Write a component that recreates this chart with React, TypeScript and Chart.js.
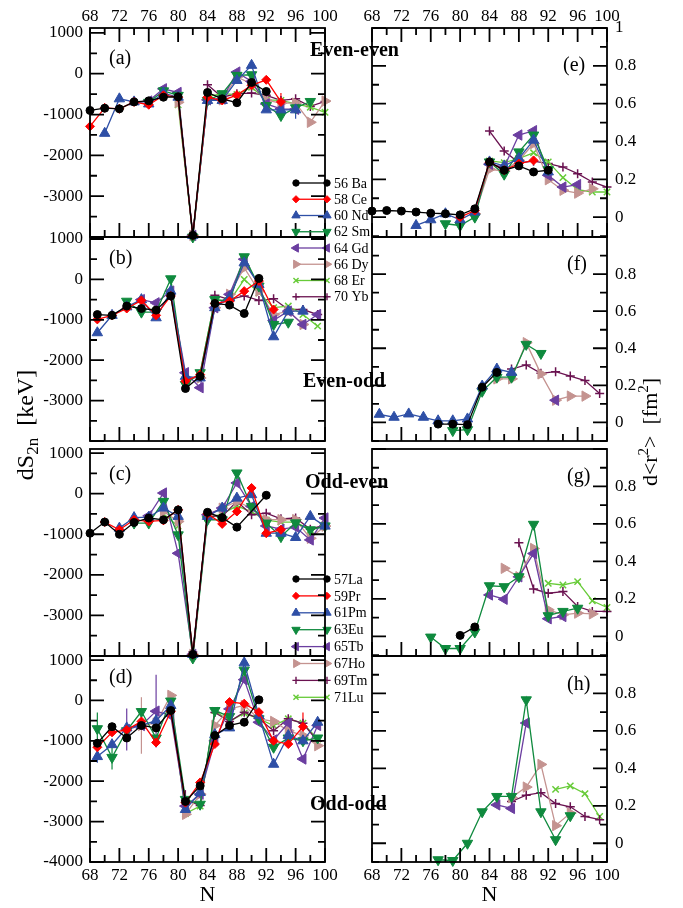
import React, { useEffect, useRef } from "react";
import { Chart, registerables } from "chart.js";
import { drawPoint } from "chart.js/helpers";

Chart.register(...registerables);

const W = 683;
const H = 908;
const SERIF = '"Liberation Serif", "Times New Roman", Times, serif';

// ---------- axes / labels ----------
const N_EVEN = [68, 70, 72, 74, 76, 78, 80, 82, 84, 86, 88, 90, 92, 94, 96, 98, 100];
const N_ODD = [69, 71, 73, 75, 77, 79, 81, 83, 85, 87, 89, 91, 93, 95, 97, 99];
const N_TICKS = [68, 72, 76, 80, 84, 88, 92, 96, 100];
const DS_TICKS_TOP = [1000, 0, -1000, -2000, -3000];
const DS_TICKS_BOTTOM = [1000, 0, -1000, -2000, -3000, -4000];
const DR_TICKS_TOP = [1, 0.8, 0.6, 0.4, 0.2, 0];
const DR_TICKS = [0.8, 0.6, 0.4, 0.2, 0];
const EVEN_Z_LABELS = ["56 Ba", "58 Ce", "60 Nd", "62 Sm", "64 Gd", "66 Dy", "68 Er", "70 Yb"];
const ODD_Z_LABELS = ["57La", "59Pr", "61Pm", "63Eu", "65Tb", "67Ho", "69Tm", "71Lu"];
const GROUP_TITLES = ["Even-even", "Even-odd", "Odd-even", "Odd-odd"];

// ---------- (a) even-even dS2n (N even) ----------
const A_BA = [-900, -845, -860, -690, -665, -575, -565, -3960, -460, -615, -710, -215, -435, null, null, null, null];
const A_CE = [-1290, -836, -860, -690, -760, -530, -575, -3960, -575, -655, -525, -285, -150, -690, null, null, null];
const A_ND = [null, -1460, -615, -690, -740, -475, -575, -3960, -655, -655, -165, 205, -885, -885, -885, null, null];
const A_SM = [null, null, null, null, -700, -420, -530, -4000, -655, -490, -40, -25, -780, -1025, -835, -680, null];
const A_GD = [null, null, null, null, -670, -370, -460, -3960, -640, -620, 40, -190, -740, -860, -870, null, null];
const A_DY = [null, null, null, null, null, null, -700, -3960, -600, -640, -80, -245, -650, -720, -720, -1190, -670];
const A_ER = [null, null, null, null, null, null, -760, -3960, -560, -490, -510, -330, -640, -655, -740, -820, -945];
const A_YB = [null, null, null, null, null, null, null, null, -270, -575, -490, -475, -530, -655, -615, -800, -680];
const A_CE_ERR = [null, null, null, null, null, null, null, null, null, null, null, null, null, 220, null, null, null];
const A_ND_ERR = [null, null, null, null, null, null, null, null, null, null, null, null, null, null, 220, null, null];

// ---------- (b) even-odd dS2n (N odd) ----------
const B_BA = [-870, -890, -660, -720, -760, -410, -2700, -2400, -595, -636, -843, 25, null, null, null, null];
const B_CE = [-990, -890, -720, -520, -890, -410, -2520, -2355, -595, -540, -290, -40, -745, null, null, null];
const B_ND = [-1320, -890, -680, -500, -950, -290, -2400, -2440, -700, -455, 410, -125, -1420, -785, -785, null];
const B_SM = [null, null, -540, -810, -810, 15, -2600, -2310, -500, -540, 560, -165, -1115, -1060, null, null];
const B_GD = [null, null, null, -500, -580, -290, -2310, -2680, -700, -370, 500, -170, -1015, -785, -1115, -870];
const B_DY = [null, null, null, null, null, null, -2440, -2440, -700, -370, 290, -290, -870, -785, -1115, null];
const B_ER = [null, null, null, null, null, null, null, -2330, -500, -540, 0, -330, -700, -660, -870, -1157];
const B_YB = [null, null, null, null, null, null, null, null, -390, -500, -410, -520, -480, -745, -745, -870];

// ---------- (c) odd-even dS2n (N even) ----------
const C_LA = [-975, -700, -1000, -710, -600, -645, -400, -3960, -460, -590, -825, null, -40, null, null, null, null];
const C_PR = [null, -700, -890, -645, -685, -660, -400, -3960, -495, -745, -440, 140, -975, -890, null, null, null];
const C_PM = [null, null, -850, -590, -580, -355, -560, -3960, -560, -355, -110, -25, -975, -975, -1080, -560, -800];
const C_EU = [null, null, null, -725, -725, -190, -1015, -4050, -640, -645, 510, -315, -725, -1060, -720, -890, -795];
const C_TB = [null, null, null, null, -545, 15, -1470, -3960, -520, -355, 265, -315, -795, -875, -825, -1140, -600];
const C_HO = [null, null, null, null, null, -440, -685, -3960, -520, -360, -190, -360, -640, -640, -640, -1100, -800];
const C_TM = [null, null, null, null, null, null, null, -3900, -545, -560, -190, -520, -480, -620, -600, -875, -770];
const C_LU = [null, null, null, null, null, -500, -800, -3960, -600, -500, -300, -450, -650, -700, -700, -900, -800];

// ---------- (d) odd-odd dS2n (N odd) ----------
const D_LA = [-1060, -650, -930, -620, -680, -250, -2500, -2115, -870, -620, -540, 15, null, null, null, null];
const D_PR = [-1160, -790, -730, -520, -1040, -275, -2530, -2030, -1080, -40, -80, -290, -1000, -1080, -650, null];
const D_PM = [-1390, -1095, -680, -620, -500, -125, -2700, -2280, -845, -680, 930, -375, -1580, -870, -1000, -540];
const D_EU = [-700, -1410, -750, -275, -930, -15, -2450, -2570, -250, -400, 750, -455, -1160, -930, -1000, -930];
const D_TB = [null, null, -720, -620, -265, -375, -2615, -2320, -1000, -210, 515, -540, -980, -560, -1450, -620];
const D_HO = [null, null, null, -620, -560, 125, -2820, -2320, -620, -210, -125, -460, -520, -750, -870, -1120];
const D_TM = [null, null, null, null, null, null, -2470, -2600, -300, -520, -290, -455, -750, -455, -565, -1010];
const D_LU = [null, null, null, null, null, -30, -2800, -2615, -250, -520, -315, -455, -620, -455, -565, -955];
const D_EU_ERR = [400, 300, null, null, null, null, null, null, null, null, null, null, null, null, null, null];
const D_PM_ERR = [150, null, null, null, null, null, null, null, null, null, null, null, null, null, null, null];
const D_TB_ERR = [null, null, 520, null, 900, null, null, null, null, null, null, null, null, null, null, null];
const D_HO_ERR = [null, null, null, 700, null, null, null, null, null, null, null, null, null, null, null, null];
const D_TM_ERR = [null, null, null, null, null, null, 250, null, null, null, null, null, null, null, null, null];
const D_PR_ERR = [null, null, null, null, null, null, null, null, null, null, null, null, null, null, 350, null];

// ---------- (e) even-even d<r2> (N even) ----------
const E_BA = [0.032, 0.035, 0.032, 0.027, 0.021, 0.018, 0.012, 0.044, 0.292, 0.248, 0.271, 0.239, 0.248, null, null, null, null];
const E_CE = [null, null, null, null, null, null, 0.0, 0.035, 0.29, 0.248, 0.283, 0.3, null, null, null, null, null];
const E_ND = [null, null, null, -0.044, -0.014, 0.018, -0.014, 0.027, 0.292, 0.271, 0.31, 0.407, 0.239, null, null, null, null];
const E_SM = [null, null, null, null, null, -0.035, -0.044, 0.0, 0.292, 0.227, 0.345, 0.434, 0.251, null, null, null, null];
const E_GD = [null, null, null, null, null, null, null, null, 0.28, 0.265, 0.434, 0.457, 0.221, 0.159, 0.172, null, null];
const E_DY = [null, null, null, null, null, null, null, 0.018, 0.253, 0.244, 0.3, 0.389, 0.198, 0.142, 0.127, 0.15, null];
const E_ER = [null, null, null, null, null, null, null, null, 0.297, 0.288, 0.31, 0.34, 0.292, 0.209, 0.145, 0.133, 0.133];
const E_YB = [null, null, null, null, null, null, null, null, 0.455, 0.35, 0.287, 0.296, 0.283, 0.265, 0.23, 0.186, 0.159];

// ---------- (f) even-odd d<r2> (N odd) ----------
const F_BA = [null, null, null, null, -0.009, -0.009, -0.012, 0.19, 0.27, null, null, null, null, null, null, null];
const F_ND = [0.044, 0.028, 0.046, 0.028, 0.009, 0.009, 0.019, 0.196, 0.288, 0.27, null, null, null, null, null, null];
const F_SM = [null, null, null, null, null, -0.044, -0.039, 0.168, 0.244, 0.244, 0.421, 0.372, null, null, null, null];
const F_GD = [null, null, null, null, null, null, null, null, null, null, null, null, 0.12, null, null, null];
const F_DY = [null, null, null, null, null, null, null, null, 0.235, 0.235, 0.43, 0.262, 0.12, 0.142, 0.142, null];
const F_YB = [null, null, null, null, null, null, null, null, null, 0.288, 0.31, 0.265, 0.274, 0.25, 0.226, 0.156];

// ---------- (g) odd-even d<r2> (N even) ----------
const G_LA = [null, null, null, null, null, null, 0.005, 0.05, null, null, null, null, null, null, null, null, null];
const G_EU = [null, null, null, null, -0.004, -0.065, -0.065, 0.023, 0.27, 0.265, 0.318, 0.598, 0.11, 0.133, 0.15, null, null];
const G_TB = [null, null, null, null, null, null, null, null, 0.221, 0.198, 0.318, 0.442, 0.094, 0.106, null, null, null];
const G_HO = [null, null, null, null, null, null, null, null, null, 0.363, 0.318, 0.469, 0.142, 0.115, 0.124, 0.12, null];
const G_TM = [null, null, null, null, null, null, null, null, null, null, 0.499, 0.253, 0.23, 0.239, 0.159, 0.133, 0.133];
const G_LU = [null, null, null, null, null, null, null, null, null, null, null, null, 0.283, 0.274, 0.292, 0.19, 0.154];

// ---------- (h) odd-odd d<r2> (N odd) ----------
const H_EU = [null, null, null, null, -0.088, -0.092, 0.0, 0.168, 0.25, 0.25, 0.766, 0.168, 0.019, 0.147, null, null];
const H_TB = [null, null, null, null, null, null, null, null, 0.205, 0.186, 0.642, null, null, null, null, null];
const H_HO = [null, null, null, null, null, null, null, null, null, 0.244, 0.3, 0.421, 0.094, 0.161, null, null];
const H_TM = [null, null, null, null, null, null, null, null, null, 0.223, 0.257, 0.27, 0.212, 0.195, 0.143, 0.126];
const H_LU = [null, null, null, null, null, null, null, null, null, null, null, null, 0.288, 0.306, 0.265, 0.143];

// ---------- styles ----------
type St = { color: string; pointStyle: string; radius: number; rotation: number };
const STYLE: Record<string, St> = {
  k: { color: "#000000", pointStyle: "circle", radius: 4, rotation: 0 },
  r: { color: "#ff0000", pointStyle: "rectRot", radius: 4.5, rotation: 0 },
  b: { color: "#2e4fa6", pointStyle: "triangle", radius: 6, rotation: 0 },
  g: { color: "#0f8a3e", pointStyle: "triangle", radius: 6, rotation: 180 },
  v: { color: "#6b3ea0", pointStyle: "triangle", radius: 6, rotation: 270 },
  p: { color: "#c49390", pointStyle: "triangle", radius: 6, rotation: 90 },
  x: { color: "#67cb38", pointStyle: "crossRot", radius: 4.5, rotation: 0 },
  m: { color: "#6a1250", pointStyle: "cross", radius: 4.5, rotation: 0 },
};
const EVEN_KEYS = ["k", "r", "b", "g", "v", "p", "x", "m"];
const ODD_KEYS = ["k", "r", "b", "g", "v", "p", "m", "x"];

type Series = { vals: (number | null)[]; st: string; errs?: (number | null)[] };
type PanelCfg = {
  id: string;
  box: { l: number; t: number; r: number; b: number };
  n: number[];
  yMin: number;
  yMax: number;
  kind: "ds" | "dr";
  topAxis: boolean;
  bottomLabels: boolean;
  yLabels: number[];
  tag: string;
  tagPos: [number, number];
  series: Series[];
  overlay?: boolean;
};

const LEFT = { l: 90, r: 325 };
const RIGHT = { l: 372, r: 607 };
const ROWS = [
  [28, 237],
  [237, 441],
  [449, 656],
  [656, 862],
];

const PANELS: PanelCfg[] = [
  {
    id: "a", box: { l: LEFT.l, r: LEFT.r, t: ROWS[0][0], b: ROWS[0][1] }, n: N_EVEN, yMin: -4000, yMax: 1120, kind: "ds",
    topAxis: true, bottomLabels: false, yLabels: DS_TICKS_TOP, tag: "(a)", tagPos: [109, 59], overlay: true,
    series: [
      { vals: A_BA, st: "k" }, { vals: A_CE, st: "r", errs: A_CE_ERR }, { vals: A_ND, st: "b", errs: A_ND_ERR }, { vals: A_SM, st: "g" },
      { vals: A_GD, st: "v" }, { vals: A_DY, st: "p" }, { vals: A_ER, st: "x" }, { vals: A_YB, st: "m" },
    ],
  },
  {
    id: "b", box: { l: LEFT.l, r: LEFT.r, t: ROWS[1][0], b: ROWS[1][1] }, n: N_ODD, yMin: -4000, yMax: 1050, kind: "ds",
    topAxis: false, bottomLabels: false, yLabels: DS_TICKS_TOP, tag: "(b)", tagPos: [109, 259],
    series: [
      { vals: B_BA, st: "k" }, { vals: B_CE, st: "r" }, { vals: B_ND, st: "b" }, { vals: B_SM, st: "g" },
      { vals: B_GD, st: "v" }, { vals: B_DY, st: "p" }, { vals: B_ER, st: "x" }, { vals: B_YB, st: "m" },
    ],
  },
  {
    id: "c", box: { l: LEFT.l, r: LEFT.r, t: ROWS[2][0], b: ROWS[2][1] }, n: N_EVEN, yMin: -4000, yMax: 1100, kind: "ds",
    topAxis: false, bottomLabels: false, yLabels: DS_TICKS_TOP, tag: "(c)", tagPos: [109, 475],
    series: [
      { vals: C_LA, st: "k" }, { vals: C_PR, st: "r" }, { vals: C_PM, st: "b" }, { vals: C_EU, st: "g" },
      { vals: C_TB, st: "v" }, { vals: C_HO, st: "p" }, { vals: C_TM, st: "m" }, { vals: C_LU, st: "x" },
    ],
  },
  {
    id: "d", box: { l: LEFT.l, r: LEFT.r, t: ROWS[3][0], b: ROWS[3][1] }, n: N_ODD, yMin: -4000, yMax: 1100, kind: "ds",
    topAxis: false, bottomLabels: true, yLabels: DS_TICKS_BOTTOM, tag: "(d)", tagPos: [109, 678],
    series: [
      { vals: D_LA, st: "k" }, { vals: D_PR, st: "r", errs: D_PR_ERR }, { vals: D_PM, st: "b", errs: D_PM_ERR }, { vals: D_EU, st: "g", errs: D_EU_ERR },
      { vals: D_TB, st: "v", errs: D_TB_ERR }, { vals: D_HO, st: "p", errs: D_HO_ERR }, { vals: D_TM, st: "m", errs: D_TM_ERR }, { vals: D_LU, st: "x" },
    ],
  },
  {
    id: "e", box: { l: RIGHT.l, r: RIGHT.r, t: ROWS[0][0], b: ROWS[0][1] }, n: N_EVEN, yMin: -0.105, yMax: 1.0, kind: "dr",
    topAxis: true, bottomLabels: false, yLabels: DR_TICKS_TOP, tag: "(e)", tagPos: [563, 66],
    series: [
      { vals: E_BA, st: "k" }, { vals: E_CE, st: "r" }, { vals: E_ND, st: "b" }, { vals: E_SM, st: "g" },
      { vals: E_GD, st: "v" }, { vals: E_DY, st: "p" }, { vals: E_ER, st: "x" }, { vals: E_YB, st: "m" },
    ],
  },
  {
    id: "f", box: { l: RIGHT.l, r: RIGHT.r, t: ROWS[1][0], b: ROWS[1][1] }, n: N_ODD, yMin: -0.1, yMax: 1.0, kind: "dr",
    topAxis: false, bottomLabels: false, yLabels: DR_TICKS, tag: "(f)", tagPos: [567, 265],
    series: [
      { vals: F_BA, st: "k" }, { vals: F_ND, st: "b" }, { vals: F_SM, st: "g" },
      { vals: F_GD, st: "v" }, { vals: F_DY, st: "p" }, { vals: F_YB, st: "m" },
    ],
  },
  {
    id: "g", box: { l: RIGHT.l, r: RIGHT.r, t: ROWS[2][0], b: ROWS[2][1] }, n: N_EVEN, yMin: -0.105, yMax: 1.0, kind: "dr",
    topAxis: false, bottomLabels: false, yLabels: DR_TICKS, tag: "(g)", tagPos: [567, 477],
    series: [
      { vals: G_LA, st: "k" }, { vals: G_EU, st: "g" }, { vals: G_TB, st: "v" },
      { vals: G_HO, st: "p" }, { vals: G_TM, st: "m" }, { vals: G_LU, st: "x" },
    ],
  },
  {
    id: "h", box: { l: RIGHT.l, r: RIGHT.r, t: ROWS[3][0], b: ROWS[3][1] }, n: N_ODD, yMin: -0.1, yMax: 1.0, kind: "dr",
    topAxis: false, bottomLabels: true, yLabels: DR_TICKS, tag: "(h)", tagPos: [567, 685],
    series: [
      { vals: H_EU, st: "g" }, { vals: H_TB, st: "v" }, { vals: H_HO, st: "p" },
      { vals: H_TM, st: "m" }, { vals: H_LU, st: "x" },
    ],
  },
];

// ---------- drawing helpers ----------
function drawRich(ctx: CanvasRenderingContext2D, parts: [string, number, number][], cx: number, cy: number, angle: number) {
  ctx.save();
  ctx.translate(cx, cy);
  ctx.rotate(angle);
  let total = 0;
  const widths = parts.map(([t, s]) => {
    ctx.font = `${s}px ${SERIF}`;
    const w = ctx.measureText(t).width;
    total += w;
    return w;
  });
  let x = -total / 2;
  ctx.textAlign = "left";
  ctx.textBaseline = "alphabetic";
  ctx.fillStyle = "#000";
  parts.forEach(([t, s, dy], i) => {
    ctx.font = `${s}px ${SERIF}`;
    ctx.fillText(t, x, 7 + dy);
    x += widths[i];
  });
  ctx.restore();
}

function drawLegend(ctx: CanvasRenderingContext2D, labels: string[], keys: string[], y0: number, step: number) {
  const x0 = 296;
  const x1 = 327;
  labels.forEach((lab, i) => {
    const st = STYLE[keys[i]];
    const y = y0 + i * step;
    ctx.save();
    ctx.strokeStyle = st.color;
    ctx.fillStyle = st.color;
    ctx.lineWidth = 1.3;
    ctx.beginPath();
    ctx.moveTo(x0, y);
    ctx.lineTo(x1, y);
    ctx.stroke();
    const opts = {
      pointStyle: st.pointStyle,
      rotation: st.rotation,
      radius: st.radius * 0.8,
      borderWidth: st.pointStyle.startsWith("cross") ? 1.4 : 1,
    };
    ctx.lineWidth = opts.borderWidth;
    drawPoint(ctx, opts as any, x0, y);
    drawPoint(ctx, opts as any, x1, y);
    ctx.restore();
    ctx.fillStyle = "#000";
    ctx.font = `14px ${SERIF}`;
    ctx.textAlign = "left";
    ctx.textBaseline = "middle";
    ctx.fillText(lab, 334, y + 1);
  });
}

const overlayPlugin = {
  id: "overlay",
  afterDraw(chart: any) {
    const ctx: CanvasRenderingContext2D = chart.ctx;
    ctx.save();
    // group titles
    ctx.fillStyle = "#000";
    ctx.font = `bold 20px ${SERIF}`;
    ctx.textAlign = "left";
    ctx.textBaseline = "middle";
    ctx.fillText(GROUP_TITLES[0], 310, 51);
    ctx.fillText(GROUP_TITLES[1], 303, 382);
    ctx.fillText(GROUP_TITLES[2], 305, 483);
    ctx.fillText(GROUP_TITLES[3], 310, 805);
    // legends
    drawLegend(ctx, EVEN_Z_LABELS, EVEN_KEYS, 183, 16.25);
    drawLegend(ctx, ODD_Z_LABELS, ODD_KEYS, 579, 16.9);
    // axis titles
    drawRich(ctx, [["dS", 24, 0], ["2n", 17, 5], ["  [keV]", 24, 0]], 26, 425, -Math.PI / 2);
    drawRich(
      ctx,
      [["d<r", 22, 0], ["2", 15, -9], [">", 22, 0], ["  [fm", 22, 0], ["2", 15, -9], ["]", 22, 0]],
      650,
      432,
      -Math.PI / 2
    );
    ctx.font = `22px ${SERIF}`;
    ctx.textAlign = "center";
    ctx.textBaseline = "middle";
    ctx.fillText("N", (LEFT.l + LEFT.r) / 2, 895);
    ctx.fillText("N", (RIGHT.l + RIGHT.r) / 2, 895);
    ctx.restore();
  },
};

function framePlugin(p: PanelCfg) {
  return {
    id: "frame",
    beforeDatasetsDraw(chart: any) {
      // error bars
      const ctx: CanvasRenderingContext2D = chart.ctx;
      const xs = chart.scales.x;
      const ys = chart.scales.y;
      ctx.save();
      ctx.lineWidth = 1.2;
      chart.data.datasets.forEach((ds: any) => {
        ctx.strokeStyle = ds.borderColor;
        ds.data.forEach((pt: any) => {
          if (pt.e == null) return;
          const x = xs.getPixelForValue(pt.x);
          ctx.beginPath();
          ctx.moveTo(x, ys.getPixelForValue(pt.y + pt.e));
          ctx.lineTo(x, ys.getPixelForValue(pt.y - pt.e));
          ctx.stroke();
        });
      });
      ctx.restore();
    },
    afterDatasetsDraw(chart: any) {
      const ctx: CanvasRenderingContext2D = chart.ctx;
      const ca = chart.chartArea;
      const xs = chart.scales.x;
      const ys = chart.scales.y;
      ctx.save();
      ctx.strokeStyle = "#000";
      ctx.lineWidth = 1.8;
      ctx.strokeRect(ca.left, ca.top, ca.right - ca.left, ca.bottom - ca.top);
      ctx.beginPath();
      for (let n = 68; n <= 100; n += 2) {
        const x = xs.getPixelForValue(n);
        const len = (n - 68) % 4 === 0 ? 14 : 7;
        ctx.moveTo(x, ca.bottom);
        ctx.lineTo(x, ca.bottom - len);
        if (p.topAxis) {
          ctx.moveTo(x, ca.top);
          ctx.lineTo(x, ca.top + len);
        }
      }
      const yTicks: [number, number][] = [];
      if (p.kind === "ds") {
        for (let v = -4000; v <= 1000; v += 500) yTicks.push([v, v % 1000 === 0 ? 14 : 7]);
      } else {
        for (let k = -1; k <= 10; k++) yTicks.push([k / 10, k % 2 === 0 ? 14 : 7]);
      }
      yTicks.forEach(([v, len]) => {
        if (v < p.yMin - 1e-9 || v > p.yMax + 1e-9) return;
        const y = ys.getPixelForValue(v);
        ctx.moveTo(ca.left, y);
        ctx.lineTo(ca.left + len, y);
        ctx.moveTo(ca.right, y);
        ctx.lineTo(ca.right - len, y);
      });
      ctx.stroke();

      ctx.fillStyle = "#000";
      ctx.font = `17px ${SERIF}`;
      ctx.textBaseline = "middle";
      // y labels
      p.yLabels.forEach((v) => {
        const y = ys.getPixelForValue(v);
        if (p.kind === "ds") {
          ctx.textAlign = "right";
          ctx.fillText(String(v), ca.left - 7, y);
        } else {
          ctx.textAlign = "left";
          ctx.fillText(String(v), ca.right + 8, y);
        }
      });
      // x labels
      ctx.textAlign = "center";
      if (p.topAxis) {
        N_TICKS.forEach((n) => ctx.fillText(String(n), xs.getPixelForValue(n), 17));
      }
      if (p.bottomLabels) {
        N_TICKS.forEach((n) => ctx.fillText(String(n), xs.getPixelForValue(n), 876));
      }
      // panel tag
      ctx.font = `20px ${SERIF}`;
      ctx.textAlign = "left";
      ctx.fillText(p.tag, p.tagPos[0], p.tagPos[1]);
      ctx.restore();
    },
  };
}

function makeConfig(p: PanelCfg): any {
  const datasets = p.series.map((s) => {
    const st = STYLE[s.st];
    const data: { x: number; y: number; e: number | null }[] = [];
    s.vals.forEach((v, i) => {
      if (v !== null) data.push({ x: p.n[i], y: v, e: s.errs ? s.errs[i] : null });
    });
    const isCross = st.pointStyle.startsWith("cross");
    return {
      data,
      borderColor: st.color,
      backgroundColor: st.color,
      pointBackgroundColor: st.color,
      pointBorderColor: st.color,
      pointStyle: st.pointStyle,
      pointRotation: st.rotation,
      pointRadius: st.radius,
      pointBorderWidth: isCross ? 1.5 : 1,
      borderWidth: 1.3,
      tension: 0,
      fill: false,
      clip: false,
      spanGaps: true,
    };
  });
  const plugins: any[] = [framePlugin(p)];
  if (p.overlay) plugins.push(overlayPlugin);
  return {
    type: "line",
    data: { datasets },
    options: {
      responsive: false,
      animation: false,
      devicePixelRatio: 1,
      events: [],
      layout: { padding: { left: p.box.l, top: p.box.t, right: W - p.box.r, bottom: H - p.box.b } },
      scales: {
        x: { type: "linear", min: 68, max: 100, display: false },
        y: { type: "linear", min: p.yMin, max: p.yMax, display: false },
      },
      plugins: { legend: { display: false }, tooltip: { enabled: false } },
    },
    plugins,
  };
}

function Panel({ cfg }: { cfg: PanelCfg }) {
  const ref = useRef<HTMLCanvasElement>(null);
  useEffect(() => {
    const chart = new Chart(ref.current as HTMLCanvasElement, makeConfig(cfg));
    return () => chart.destroy();
  }, [cfg]);
  return (
    <canvas
      ref={ref}
      width={W}
      height={H}
      style={{ position: "absolute", left: 0, top: 0, width: W, height: H }}
    />
  );
}

export default function App() {
  return (
    <div style={{ position: "absolute", left: 0, top: 0, width: W, height: H, background: "#fff" }}>
      {PANELS.map((p) => (
        <Panel key={p.id} cfg={p} />
      ))}
    </div>
  );
}
